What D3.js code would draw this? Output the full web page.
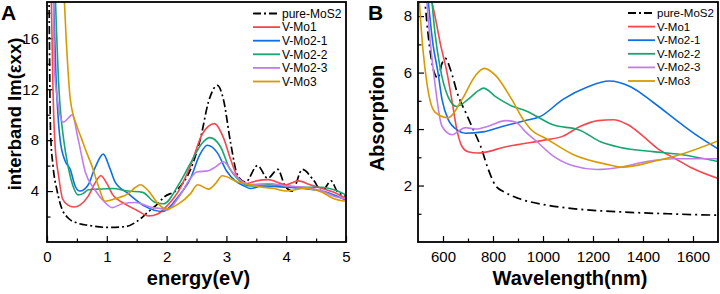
<!DOCTYPE html>
<html>
<head>
<meta charset="utf-8">
<script src="https://cdn.jsdelivr.net/npm/d3@7"></script>
<style>
  body { margin: 0; background: #fff; }
  svg { font-family: Arial, "Liberation Sans", sans-serif; }
</style>
</head>
<body>
<div id="chart"></div>
<script>
// series names and colours (same order in both panels)
var seriesNames = ["pure-MoS2", "V-Mo1", "V-Mo2-1", "V-Mo2-2", "V-Mo2-3", "V-Mo3"];
var seriesColors = ["#000000", "#f4474f", "#0f6fe6", "#17a672", "#c27ceb", "#d99a00"];

// panel A : interband Im(exx) vs energy (eV)
var energyTicks = [0, 1, 2, 3, 4, 5];
var imTicks = [4, 8, 12, 16];
var A_pure = [[0.03,22],[0.06,8.5],[0.1,6],[0.17,4.0],[0.25,2.6],[0.35,1.9],[0.5,1.5],[0.7,1.3],[1.0,1.15],[1.3,1.2],[1.5,1.6],[1.7,2.4],[1.85,3.0],[1.95,3.5],[2.2,4.2],[2.4,5.7],[2.57,8.2],[2.7,11],[2.85,12.3],[2.95,11.2],[3.07,7.8],[3.19,5.2],[3.32,4.7],[3.52,6.0],[3.69,5.0],[3.86,5.7],[3.98,4.4],[4.1,4.0],[4.27,5.7],[4.45,4.9],[4.6,4.0],[4.75,4.8],[4.85,4.0],[5.0,3.6]];
var A_mo1 = [[0.06,22],[0.1,12],[0.13,8],[0.2,5.0],[0.26,3.4],[0.35,2.9],[0.45,2.75],[0.55,2.9],[0.69,3.6],[0.8,4.6],[0.9,5.2],[1.0,4.6],[1.1,3.7],[1.3,3.0],[1.5,2.5],[1.7,2.05],[1.85,2.2],[2.0,2.8],[2.2,4.0],[2.4,6.0],[2.6,8.5],[2.8,9.3],[2.95,8.2],[3.07,6.5],[3.2,5.0],[3.35,4.6],[3.5,4.8],[3.7,4.9],[4.0,4.5],[4.2,4.8],[4.4,4.5],[4.6,4.2],[4.8,3.9],[5.0,3.4]];
var A_mo21 = [[0.09,22],[0.15,13],[0.22,8],[0.3,6.4],[0.39,5.7],[0.47,4.4],[0.55,4.0],[0.69,4.5],[0.8,5.8],[0.94,6.9],[1.05,5.8],[1.14,4.7],[1.36,3.8],[1.64,2.8],[1.93,2.4],[2.2,3.6],[2.4,5.0],[2.55,6.8],[2.68,7.6],[2.85,7.0],[3.0,5.6],[3.15,4.8],[3.3,4.4],[3.4,4.2],[3.6,4.4],[4.0,4.3],[4.3,4.2],[4.6,4.0],[4.8,3.7],[5.0,3.3]];
var A_mo22 = [[0.12,22],[0.2,12],[0.28,8],[0.35,6.0],[0.45,4.2],[0.52,3.7],[0.6,3.8],[0.69,4.1],[0.86,4.15],[1.09,4.2],[1.36,4.0],[1.6,3.9],[1.81,3.1],[1.95,3.0],[2.2,4.5],[2.4,6.2],[2.6,7.8],[2.72,8.2],[2.9,7.5],[3.05,5.8],[3.2,4.9],[3.4,4.4],[3.7,4.5],[4.0,4.4],[4.3,4.3],[4.6,4.3],[4.8,4.1],[5.0,3.7]];
var A_mo23 = [[0.1,22],[0.12,14],[0.18,11],[0.27,9.4],[0.35,9.7],[0.42,10],[0.52,8.1],[0.64,5.5],[0.8,4.1],[0.97,3.1],[1.09,2.7],[1.26,3.0],[1.48,3.1],[1.76,2.7],[1.93,2.6],[2.0,2.5],[2.2,3.5],[2.4,5.0],[2.5,5.5],[2.7,5.6],[2.82,5.9],[2.95,6.3],[3.1,5.5],[3.25,4.8],[3.4,4.5],[3.7,4.6],[4.0,4.4],[4.3,4.3],[4.6,4.0],[4.8,3.6],[5.0,3.4]];
var A_mo3 = [[0.26,22],[0.32,16],[0.39,11.2],[0.5,9.1],[0.58,8.1],[0.64,7.3],[0.75,6.0],[0.86,4.4],[0.97,3.2],[1.14,3.4],[1.36,3.8],[1.48,4.3],[1.56,4.5],[1.7,4.0],[1.86,3.0],[2.0,2.6],[2.2,3.0],[2.4,3.8],[2.52,4.5],[2.7,4.15],[2.82,4.6],[2.93,5.2],[3.2,4.7],[3.4,4.5],[3.6,4.3],[3.8,4.2],[4.0,4.0],[4.3,4.2],[4.6,3.9],[4.8,3.4],[5.0,3.2]];

// panel B : absorption vs wavelength (nm)
var wavelengthTicks = [600, 800, 1000, 1200, 1400, 1600];
var absTicks = [2, 4, 6, 8];
var B_pure = [[525,8.8],[545,7.0],[565,6.0],[580,5.8],[595,6.3],[610,6.5],[630,6.1],[660,5.2],[690,4.6],[720,4.0],[750,3.4],[780,2.6],[810,2.0],[850,1.75],[900,1.55],[1000,1.33],[1100,1.2],[1200,1.12],[1300,1.07],[1400,1.03],[1500,1.0],[1600,0.97],[1700,0.95]];
var B_mo1 = [[548,8.8],[568,8.0],[590,7.0],[616,6.0],[636,5.0],[655,4.0],[675,3.4],[700,3.2],[740,3.15],[780,3.2],[840,3.35],[900,3.45],[1000,3.6],[1080,3.75],[1150,4.1],[1220,4.3],[1280,4.33],[1340,4.15],[1400,3.75],[1460,3.3],[1530,2.95],[1600,2.6],[1700,2.25]];
var B_mo21 = [[538,8.8],[560,7.0],[580,6.0],[596,5.05],[620,4.35],[660,3.95],[690,3.85],[760,3.9],[840,4.1],[930,4.3],[990,4.45],[1080,5.05],[1180,5.5],[1265,5.7],[1350,5.5],[1440,4.95],[1550,4.2],[1620,3.75],[1700,3.3]];
var B_mo22 = [[553,8.8],[568,7.4],[588,6.2],[620,5.15],[655,4.8],[700,5.05],[740,5.35],[762,5.45],[810,5.15],[880,4.8],[930,4.65],[1040,4.15],[1150,3.95],[1230,3.55],[1310,3.35],[1440,3.2],[1550,3.1],[1700,2.85]];
var B_mo23 = [[533,8.8],[550,7.0],[568,5.6],[596,4.1],[636,3.8],[690,4.05],[730,4.0],[780,4.1],[850,4.3],[890,4.25],[930,3.9],[976,3.55],[1040,3.05],[1120,2.7],[1215,2.57],[1310,2.65],[1415,2.85],[1520,2.95],[1600,2.95],[1700,2.95]];
var B_mo3 = [[500,9.2],[520,6.8],[536,5.6],[568,4.6],[620,4.4],[676,5.05],[730,5.9],[765,6.15],[810,5.9],[875,5.05],[920,4.35],[950,4.0],[1015,3.65],[1120,3.1],[1255,2.75],[1320,2.65],[1440,2.85],[1550,3.1],[1700,3.58]];

var svg = d3.select("#chart").append("svg").attr("width", 720).attr("height", 294);

function panel(opt) {
    var width = opt.right - opt.left, height = opt.bottom - opt.top;
    var x = d3.scaleLinear().domain(opt.xDomain).range([0, width]);
    var y = d3.scaleLinear().domain(opt.yDomain).range([height, 0]);
    var g = svg.append("g").attr("transform", "translate(" + opt.left + "," + opt.top + ")");

    g.append("clipPath").attr("id", opt.id + "clip")
        .append("rect").attr("width", width).attr("height", height);

    // minor ticks (inward)
    g.append("g").attr("transform", "translate(0," + height + ")")
        .call(d3.axisBottom(x).tickValues(opt.xMinor).tickSize(-3.5).tickFormat(""))
        .call(s => s.select(".domain").remove());
    g.append("g")
        .call(d3.axisLeft(y).tickValues(opt.yMinor).tickSize(-3.5).tickFormat(""))
        .call(s => s.select(".domain").remove());

    // major ticks + labels
    var xa = g.append("g").attr("transform", "translate(0," + height + ")")
        .call(d3.axisBottom(x).tickValues(opt.xTicks).tickSize(-6).tickPadding(9).tickFormat(d3.format("d")));
    var ya = g.append("g")
        .call(d3.axisLeft(y).tickValues(opt.yTicks).tickSize(-6).tickPadding(opt.yPad).tickFormat(d3.format("d")));
    [xa, ya].forEach(function (a) {
        a.select(".domain").remove();
        a.selectAll("text").attr("font-size", 15).attr("fill", "#000")
            .attr("font-family", "Arial, 'Liberation Sans', sans-serif");
    });
    g.selectAll(".tick line").attr("stroke", "#000").attr("stroke-width", 1.2);

    var line = d3.line().x(d => x(d[0])).y(d => y(d[1])).curve(d3.curveMonotoneX);
    var curves = g.append("g").attr("clip-path", "url(#" + opt.id + "clip)");
    opt.series.forEach(function (s, i) {
        curves.append("path")
            .attr("d", line(s))
            .attr("fill", "none")
            .attr("stroke", seriesColors[i])
            .attr("stroke-width", i == 0 ? 1.7 : 1.6)
            .attr("stroke-dasharray", i == 0 ? opt.dash : null);
    });

    g.append("rect").attr("width", width).attr("height", height)
        .attr("fill", "none").attr("stroke", "#000").attr("stroke-width", 1.8);

    // legend
    var lg = g.append("g");
    seriesNames.forEach(function (n, i) {
        var yy = opt.legY + i * 13.6 - opt.top;
        lg.append("line").attr("x1", opt.legX - opt.left).attr("x2", opt.legX - opt.left + 27)
            .attr("y1", yy).attr("y2", yy)
            .attr("stroke", seriesColors[i]).attr("stroke-width", 1.8)
            .attr("stroke-dasharray", i == 0 ? "8,3,2,3" : null);
        lg.append("text").attr("x", opt.legX - opt.left + 29).attr("y", yy).attr("dy", "0.35em")
            .attr("font-size", opt.legFont).text(n);
    });

    // axis titles
    svg.append("text").attr("x", opt.left + width / 2 + 2).attr("y", 285)
        .attr("text-anchor", "middle").attr("font-size", 20).attr("font-weight", "bold")
        .text(opt.xTitle);
    svg.append("text")
        .attr("transform", "translate(" + opt.yTitleX + "," + opt.yTitleY + ") rotate(-90)")
        .attr("text-anchor", "middle").attr("font-size", opt.yTitleFont).attr("font-weight", "bold")
        .text(opt.yTitle);
    svg.append("text").attr("x", opt.labelX).attr("y", 20)
        .attr("font-size", 21).attr("font-weight", "bold").text(opt.label);
}

panel({
    id: "A", label: "A", labelX: 1,
    left: 47, right: 346, top: 2, bottom: 242,
    xDomain: [0, 5], yDomain: [0, 18.85],
    xTicks: energyTicks, yTicks: imTicks,
    xMinor: [0.5, 1.5, 2.5, 3.5, 4.5], yMinor: [2, 6, 10, 14, 18],
    yPad: 8,
    series: [A_pure, A_mo1, A_mo21, A_mo22, A_mo23, A_mo3],
    dash: "8,3,2,3",
    legX: 253, legY: 13.5, legFont: 12,
    xTitle: "energy(eV)", yTitle: "interband Im(\u03b5xx)",
    yTitleX: 21, yTitleY: 114, yTitleFont: 18.5
});

panel({
    id: "B", label: "B", labelX: 368,
    left: 418, right: 718, top: 2, bottom: 242,
    xDomain: [500, 1700], yDomain: [0, 8.5],
    xTicks: wavelengthTicks, yTicks: absTicks,
    xMinor: [700, 900, 1100, 1300, 1500], yMinor: [1, 3, 5, 7],
    yPad: 6,
    series: [B_pure, B_mo1, B_mo21, B_mo22, B_mo23, B_mo3],
    dash: "9,4,2,4",
    legX: 628, legY: 13, legFont: 11.5,
    xTitle: "Wavelength(nm)", yTitle: "Absorption",
    yTitleX: 384, yTitleY: 118, yTitleFont: 20
});
</script>
</body>
</html>
